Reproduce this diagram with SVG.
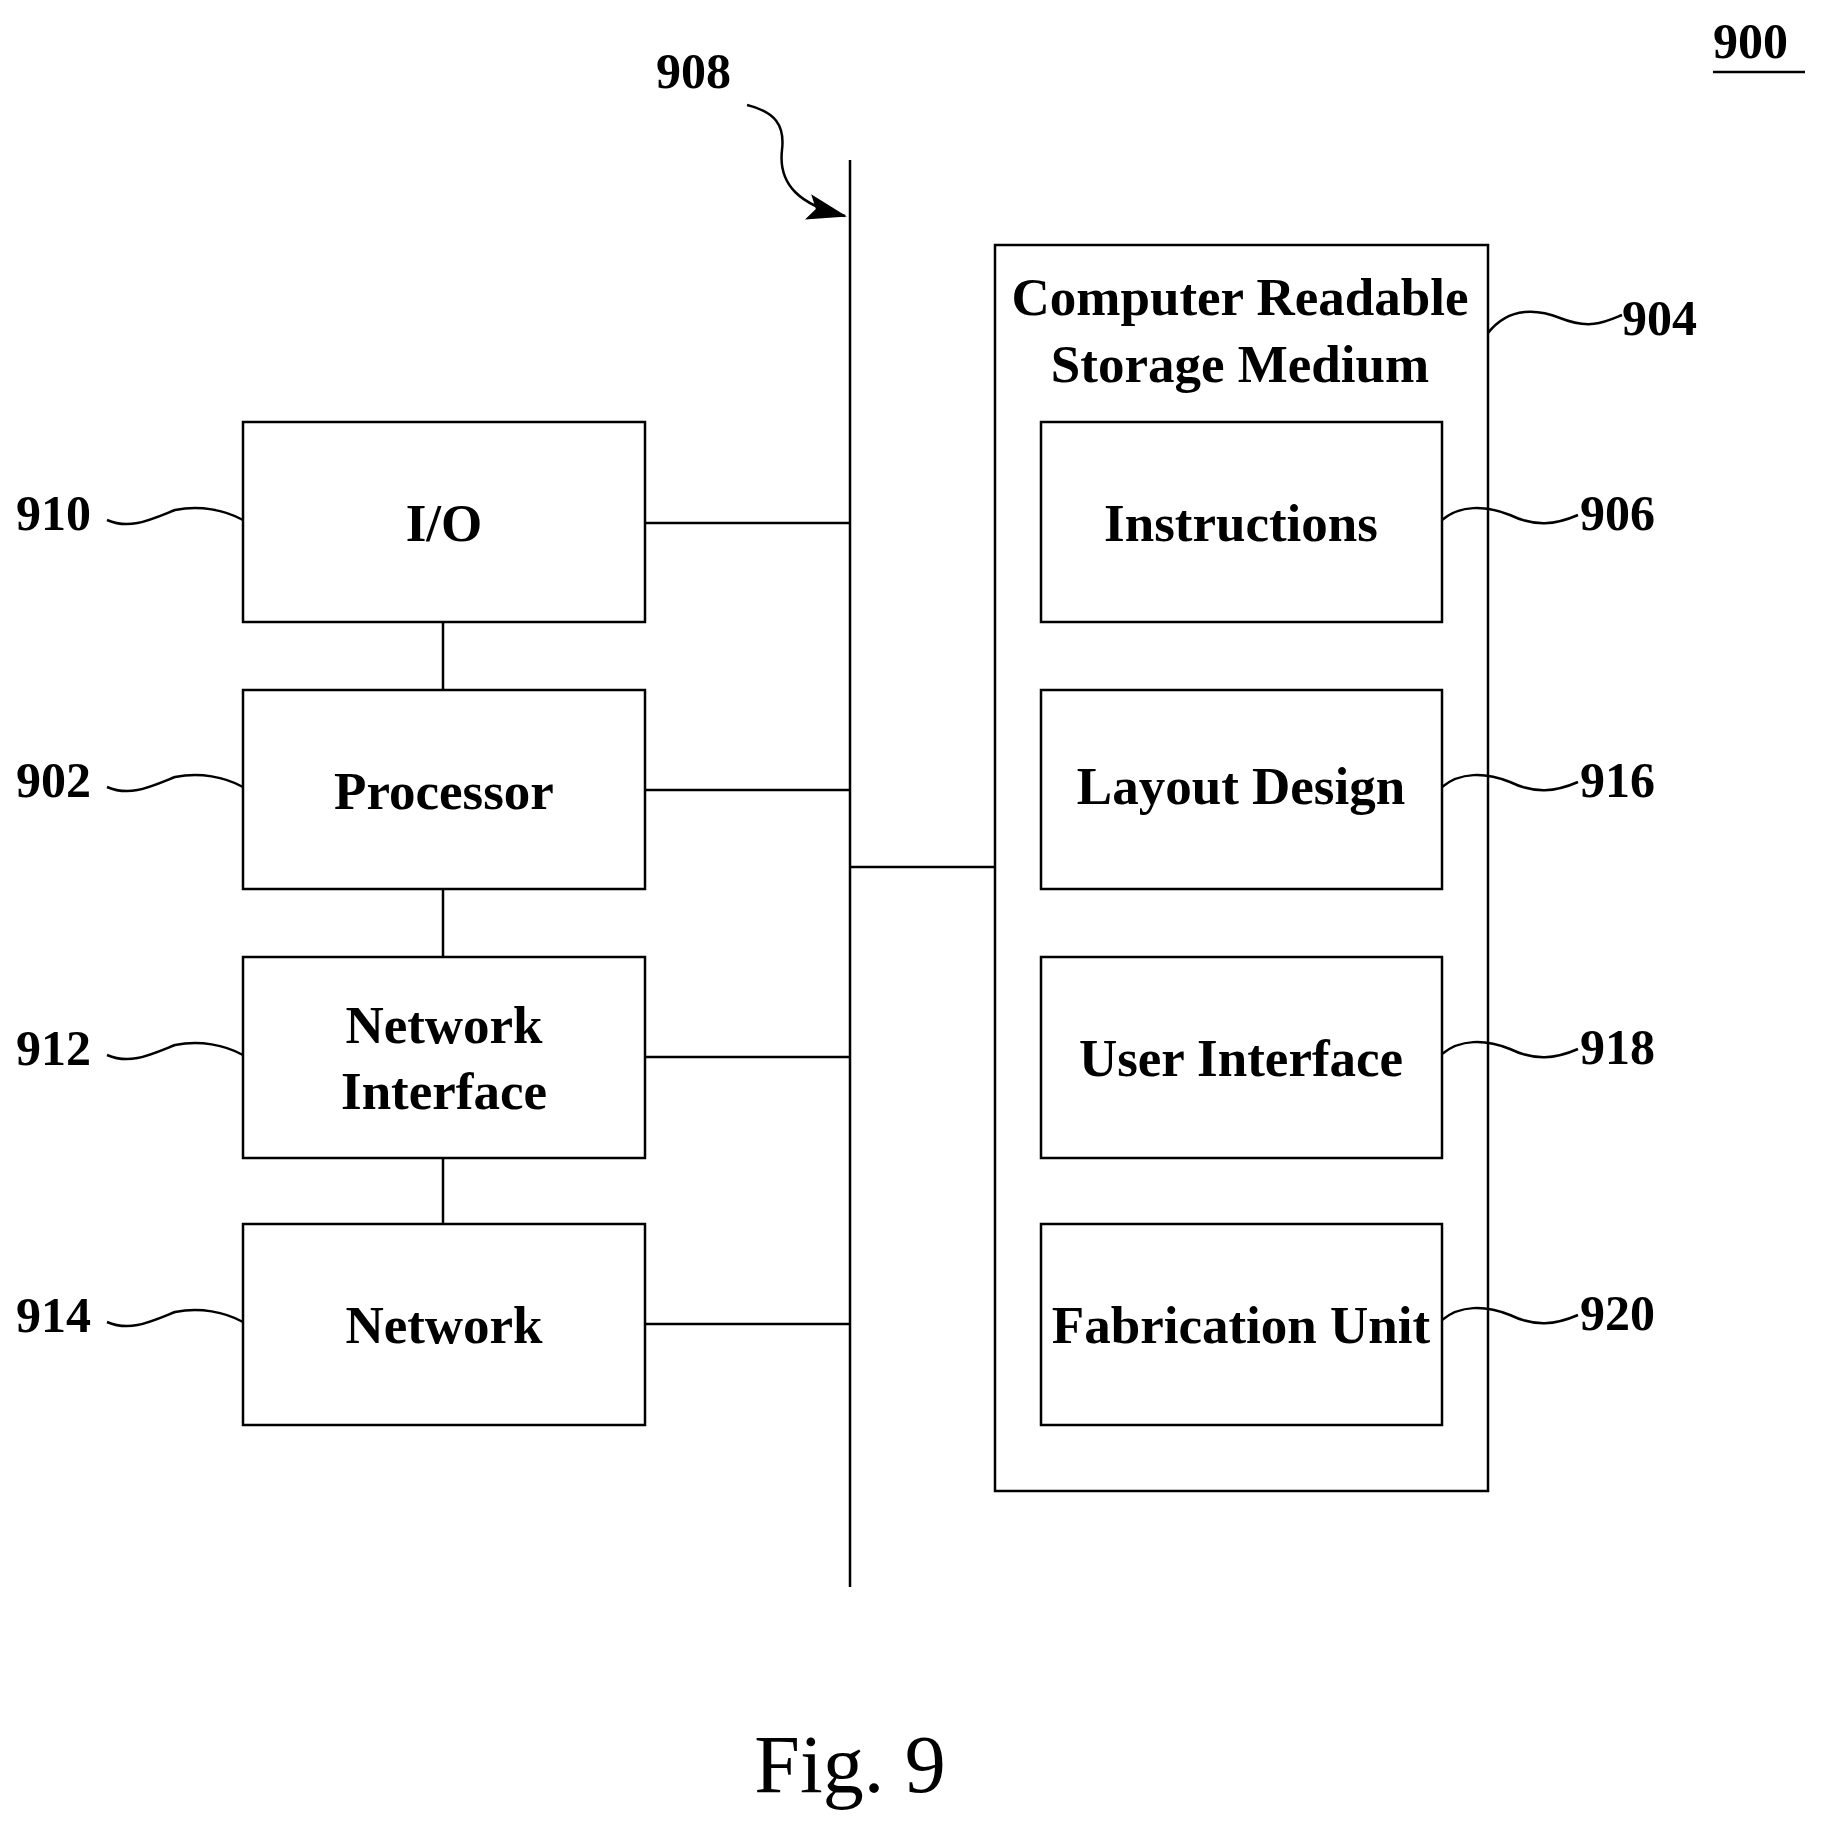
<svg xmlns="http://www.w3.org/2000/svg" width="1821" height="1827" viewBox="0 0 1821 1827">
<style>
.b{fill:none;stroke:#000;stroke-width:2.5}
.l{fill:none;stroke:#000;stroke-width:2.5}
.t{font-family:"Liberation Serif",serif;font-size:53px;font-weight:bold;text-anchor:middle}
.n{font-family:"Liberation Serif",serif;font-size:50px;font-weight:bold}
</style>
<defs><marker id="ah" markerWidth="40" markerHeight="26" refX="38" refY="13" orient="auto" markerUnits="userSpaceOnUse" viewBox="0 0 40 26"><path d="M0,0L40,13L0,26L8,13z"/></marker></defs>
<rect width="1821" height="1827" fill="#fff"/>
<g id="connectors">
<line class="l" x1="850" y1="160" x2="850" y2="1587" stroke-width="3"/>
<line class="l" x1="645" y1="523" x2="850" y2="523"/>
<line class="l" x1="645" y1="790" x2="850" y2="790"/>
<line class="l" x1="645" y1="1057" x2="850" y2="1057"/>
<line class="l" x1="645" y1="1324" x2="850" y2="1324"/>
<line class="l" x1="850" y1="867" x2="995" y2="867"/>
<line class="l" x1="443" y1="622" x2="443" y2="690" stroke-width="3"/>
<line class="l" x1="443" y1="889" x2="443" y2="957" stroke-width="3"/>
<line class="l" x1="443" y1="1158" x2="443" y2="1224" stroke-width="3"/>
<path class="l" d="M747,105 C775,112 785,125 782,150 C778,185 800,205 845,216" marker-end="url(#ah)"/>
</g>
<g id="n910"><rect class="b" x="243" y="422" width="402" height="200"/><text class="t" x="444" y="541">I/O</text>
<text class="n" x="16" y="530">910</text><path class="l" d="M107,520 C130,530 150,520 175,510 C200,505 225,510 243,520"/></g>
<g id="n902"><rect class="b" x="243" y="690" width="402" height="199"/><text class="t" x="444" y="809">Processor</text>
<text class="n" x="16" y="797">902</text><path class="l" d="M107,787 C130,797 150,787 175,777 C200,772 225,777 243,787"/></g>
<g id="n912"><rect class="b" x="243" y="957" width="402" height="201"/><text class="t" x="444" y="1043">Network</text><text class="t" x="444" y="1109">Interface</text>
<text class="n" x="16" y="1065">912</text><path class="l" d="M107,1055 C130,1065 150,1055 175,1045 C200,1040 225,1045 243,1055"/></g>
<g id="n914"><rect class="b" x="243" y="1224" width="402" height="201"/><text class="t" x="444" y="1343">Network</text>
<text class="n" x="16" y="1332">914</text><path class="l" d="M107,1322 C130,1332 150,1322 175,1312 C200,1307 225,1312 243,1322"/></g>
<g id="n904"><rect class="b" x="995" y="245" width="493" height="1246"/><text class="t" x="1240" y="315">Computer Readable</text><text class="t" x="1240" y="382">Storage Medium</text>
<text class="n" x="1622" y="335">904</text><path class="l" stroke-width="1.5" d="M1488,333 C1510,305 1540,310 1560,318 C1590,330 1605,322 1622,315"/></g>
<g id="n906"><rect class="b" x="1041" y="422" width="401" height="200"/><text class="t" x="1241" y="541">Instructions</text>
<text class="n" x="1580" y="530">906</text><path class="l" d="M1442,520 C1460,505 1485,505 1510,515 C1535,527 1555,525 1578,515"/></g>
<g id="n916"><rect class="b" x="1041" y="690" width="401" height="199"/><text class="t" x="1241" y="804">Layout Design</text>
<text class="n" x="1580" y="797">916</text><path class="l" d="M1442,787 C1460,772 1485,772 1510,782 C1535,794 1555,792 1578,782"/></g>
<g id="n918"><rect class="b" x="1041" y="957" width="401" height="201"/><text class="t" x="1241" y="1076">User Interface</text>
<text class="n" x="1580" y="1064">918</text><path class="l" d="M1442,1054 C1460,1039 1485,1039 1510,1049 C1535,1061 1555,1059 1578,1049"/></g>
<g id="n920"><rect class="b" x="1041" y="1224" width="401" height="201"/><text class="t" x="1241" y="1343">Fabrication Unit</text>
<text class="n" x="1580" y="1330">920</text><path class="l" d="M1442,1320 C1460,1305 1485,1305 1510,1315 C1535,1327 1555,1325 1578,1315"/></g>
<text class="n" x="656" y="88">908</text>
<text class="n" x="1713" y="58">900</text><line class="l" x1="1713" y1="72" x2="1805" y2="72" stroke-width="3"/>
<text class="t" x="850" y="1792" style="font-size:82px;font-weight:normal">Fig. 9</text>
</svg>
